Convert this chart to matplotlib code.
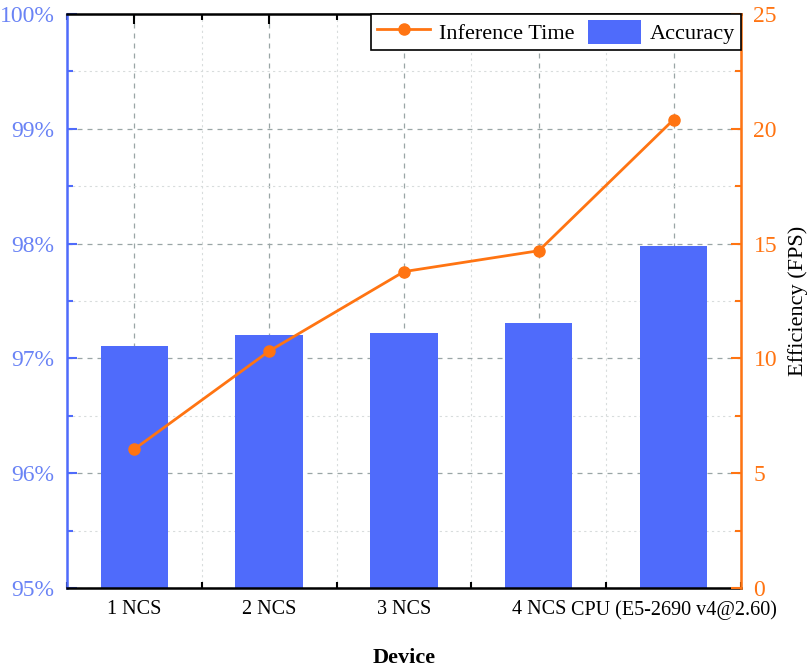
import numpy as np
import matplotlib
matplotlib.use("Agg")
import matplotlib.pyplot as plt
from matplotlib.ticker import MultipleLocator, FuncFormatter

devices = ["1 NCS", "2 NCS", "3 NCS", "4 NCS", "CPU (E5-2690 v4@2.60)"]
accuracy = [97.11, 97.20, 97.22, 97.31, 97.98]   # %
fps = [6.05, 10.32, 13.78, 14.69, 20.4]          # Efficiency (FPS)

blue = "#4f6bfb"
blue_txt = "#6a83f5"
orange = "#ff7412"

plt.rcParams['font.family'] = ['Liberation Serif', 'DejaVu Serif']
plt.rcParams['font.size'] = 14

fig = plt.figure(figsize=(8.12, 6.69), dpi=100)
ax = fig.add_axes([67/812, 1-588/669, (741-67)/812, (588-14)/669])
x = np.arange(len(devices))

bars = ax.bar(x, accuracy, width=0.5, color=blue, zorder=2, label="Accuracy")
ax.set_ylim(95, 100)
ax.set_xlim(-0.5, 4.5)
ax.set_xticks(x)
ax.set_xticklabels(devices)
ax.xaxis.set_minor_locator(MultipleLocator(0.5))
ax.yaxis.set_major_locator(MultipleLocator(1))
ax.yaxis.set_minor_locator(MultipleLocator(0.5))
ax.yaxis.set_major_formatter(FuncFormatter(lambda v, p: "%d%%" % v))
ax.grid(which="major", color="#9aa6a6", linestyle=(0, (4, 4)), linewidth=0.9, zorder=0)
ax.grid(which="minor", color="#d8dcdc", linestyle=(0, (2, 3)), linewidth=0.8, zorder=0)
ax.set_axisbelow(True)

ax.tick_params(axis="y", which="both", direction="in", colors=blue, labelcolor=blue_txt,
               labelsize=17, width=1.5)
ax.tick_params(axis="y", which="major", length=7, pad=9)
ax.tick_params(axis="y", which="minor", length=4)
ax.tick_params(axis="x", which="both", direction="in", top=True, width=1.5, labelsize=14.5, pad=9)
ax.tick_params(axis="x", which="major", length=7)
ax.tick_params(axis="x", which="minor", length=4)
ax.spines["left"].set_color(blue)
ax.spines["left"].set_linewidth(1.8)
ax.spines["top"].set_linewidth(1.8)
ax.spines["bottom"].set_linewidth(1.8)
ax.set_xlabel("Device", fontweight="bold", fontsize=16, labelpad=20)

ax2 = ax.twinx()
line, = ax2.plot(x, fps, color=orange, marker="o", markersize=8, linewidth=2,
                 zorder=3, label="Inference Time")
ax2.set_ylim(0, 25)
ax2.yaxis.set_major_locator(MultipleLocator(5))
ax2.yaxis.set_minor_locator(MultipleLocator(2.5))
ax2.tick_params(axis="y", which="both", direction="in", colors=orange, labelcolor=orange,
                labelsize=17, width=1.5)
ax2.tick_params(axis="y", which="major", length=7, pad=9)
ax2.tick_params(axis="y", which="minor", length=4)
ax2.spines["right"].set_color(orange)
ax2.spines["right"].set_linewidth(1.8)
ax2.spines["left"].set_visible(False)
ax2.spines["top"].set_visible(False)
ax2.spines["bottom"].set_visible(False)
ax2.set_ylabel("Efficiency (FPS)", fontsize=16, labelpad=8)

leg = ax2.legend([line, bars], ["Inference Time", "Accuracy"], loc="upper right", ncol=2,
                 fancybox=False, edgecolor="black", framealpha=1, fontsize=16,
                 borderaxespad=0, handlelength=2.4, handleheight=1.3, columnspacing=0.6,
                 handletextpad=0.4, borderpad=0.25)
leg.get_frame().set_linewidth(1.2)

fig.savefig("out.png", dpi=100)
